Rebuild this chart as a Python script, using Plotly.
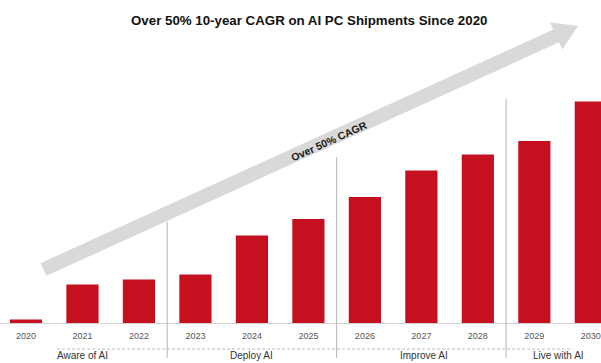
import math
import plotly.graph_objects as go

years = ["2020", "2021", "2022", "2023", "2024", "2025", "2026", "2027", "2028", "2029", "2030"]
shipments = [1.6, 17.4, 19.6, 21.9, 39.5, 47.0, 56.9, 68.8, 76.1, 82.2, 100.0]
phase_labels = ["Aware of AI", "Deploy AI", "Improve AI", "Live with AI"]
phase_centers = [1.0, 4.0, 7.05, 9.42]
phase_dividers = [2.5, 5.5, 8.5]
divider_tops = [45.6, 74.9, 101.1]
title_text = "Over 50% 10-year CAGR on AI PC Shipments Since 2020"
arrow_text = "Over 50% CAGR"

W, H = 601, 363
ML, MR, MT, MB = 0, 0, 0, 40
PH = H - MT - MB
YMAX = 145.8
xr = [-0.46, 10.18]

def px_x(p):
    return (p - ML) / (W - ML - MR)

def px_y(p):
    return (PH + MT - p) / PH

fig = go.Figure()
fig.add_trace(go.Bar(
    x=list(range(len(years))), y=shipments,
    marker=dict(color="#c5111f", line=dict(width=0)),
    width=0.57, hoverinfo="skip",
))

shapes = []
# grey growth arrow
S = (43.5, 269.5)
T = (578.0, 26.0)
dx, dy = T[0] - S[0], T[1] - S[1]
L = math.hypot(dx, dy)
u = (dx / L, dy / L)
n = (-u[1], u[0])
hw, hl, hhw = 7.0, 24.0, 15.0
Hc = (T[0] - hl * u[0], T[1] - hl * u[1])
pts = [
    (S[0] + hw * n[0], S[1] + hw * n[1]),
    (Hc[0] + hw * n[0], Hc[1] + hw * n[1]),
    (Hc[0] + hhw * n[0], Hc[1] + hhw * n[1]),
    T,
    (Hc[0] - hhw * n[0], Hc[1] - hhw * n[1]),
    (Hc[0] - hw * n[0], Hc[1] - hw * n[1]),
    (S[0] - hw * n[0], S[1] - hw * n[1]),
]
path = "M " + " L ".join(f"{px_x(a):.5f},{px_y(b):.5f}" for a, b in pts) + " Z"
shapes.append(dict(type="path", xref="paper", yref="paper", path=path,
                   fillcolor="#d9d9d9", line=dict(width=0), layer="below"))

for xd, top in zip(phase_dividers, divider_tops):
    shapes.append(dict(type="line", xref="x", yref="paper", x0=xd, x1=xd,
                       y0=top / YMAX, y1=px_y(358), line=dict(color="#b5b5b5", width=1)))

shapes.append(dict(type="line", xref="x", yref="paper", x0=0.55, x1=9.68,
                   y0=px_y(349), y1=px_y(349),
                   line=dict(color="#bdbdbd", width=1, dash="3px,2px")))

annotations = [
    dict(text=f"<b>{title_text}</b>", xref="paper", yref="paper",
         x=px_x(308.5), y=px_y(20), xanchor="center", yanchor="middle", showarrow=False,
         font=dict(family="Arial", size=13.3, color="#111111")),
    dict(text=f"<b>{arrow_text}</b>", xref="paper", yref="paper",
         x=px_x(329), y=px_y(141), xanchor="center", yanchor="middle",
         showarrow=False, textangle=-24.4,
         font=dict(family="Arial", size=10.5, color="#1a1a1a")),
]
for lab, cx in zip(phase_labels, phase_centers):
    annotations.append(dict(text=lab, xref="x", yref="paper", x=cx, y=px_y(363),
                            yanchor="bottom", xanchor="center", showarrow=False,
                            font=dict(family="Arial", size=10, color="#333333")))

fig.update_layout(
    width=W, height=H,
    margin=dict(l=ML, r=MR, t=MT, b=MB, pad=0, autoexpand=False),
    paper_bgcolor="white", plot_bgcolor="white",
    showlegend=False, bargap=0.4,
    xaxis=dict(range=xr, tickvals=list(range(len(years))), ticktext=years,
               automargin=False, ticklabelstandoff=4,
               showgrid=False, zeroline=False, showline=True, linecolor="#d0d0d0",
               linewidth=1, ticks="", tickfont=dict(family="Arial", size=9, color="#555555")),
    yaxis=dict(range=[0, YMAX], visible=False, showgrid=False, zeroline=False, automargin=False),
    shapes=shapes, annotations=annotations,
)

fig.write_html(
    "out.html",
    config={"displayModeBar": False},
    post_script="document.body.style.margin='0';document.body.style.overflow='hidden';",
)
